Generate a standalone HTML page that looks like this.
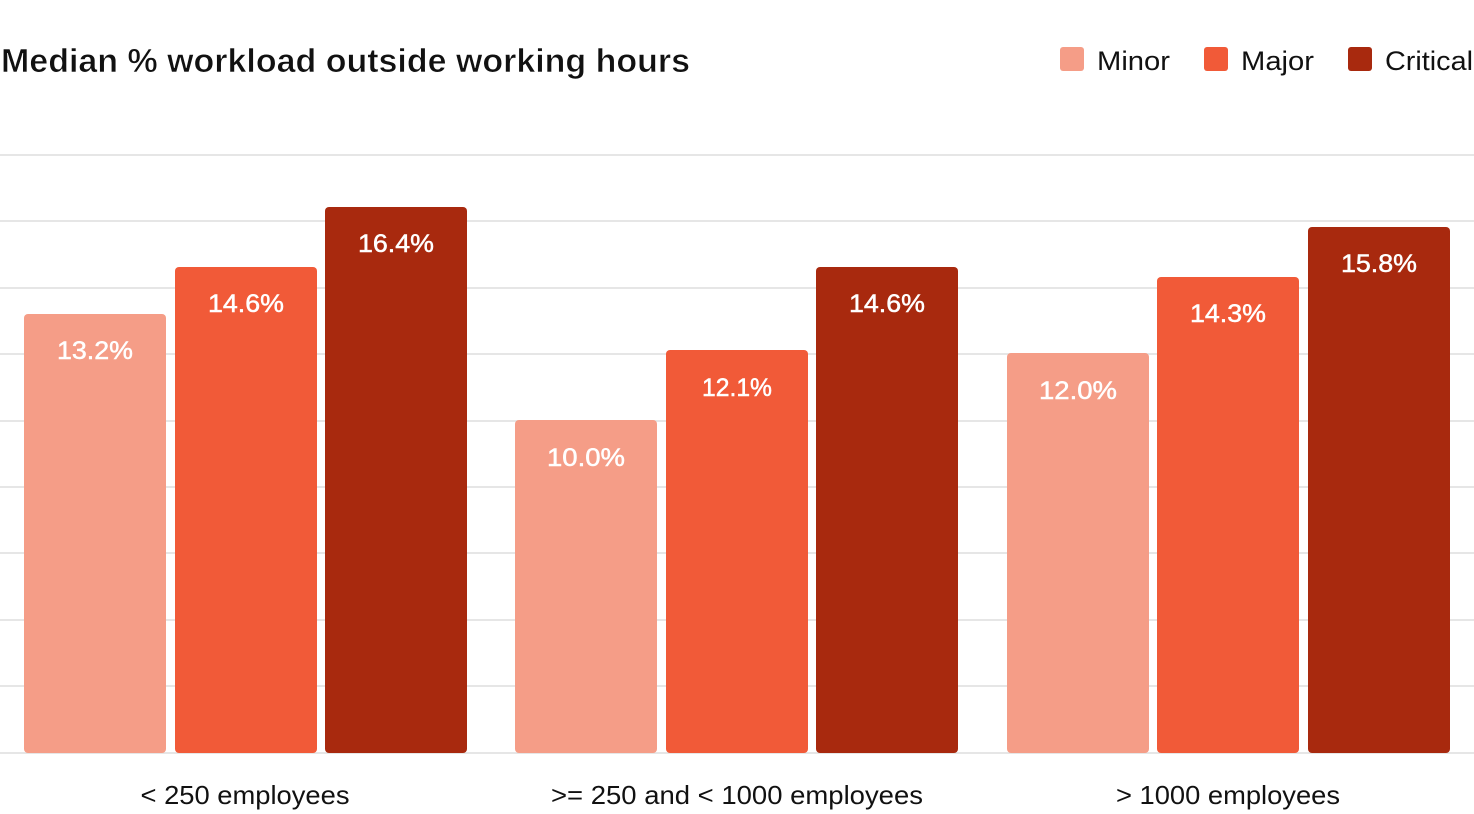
<!DOCTYPE html>
<html><head><meta charset="utf-8"><style>body{margin:0;background:#fff}svg{display:block}text{font-family:"Liberation Sans",sans-serif}</style></head><body>
<svg width="1474" height="814" viewBox="0 0 1474 814">
<text x="1" y="72" font-size="33" font-weight="bold" fill="#111" textLength="689" lengthAdjust="spacingAndGlyphs" stroke="#fff" stroke-width="0.6">Median % workload outside working hours</text>
<rect x="1060" y="47" width="24" height="24" rx="3" fill="#F59D87"/><text x="1097" y="70" font-size="27" fill="#111" textLength="73" lengthAdjust="spacingAndGlyphs">Minor</text>
<rect x="1204" y="47" width="24" height="24" rx="3" fill="#F15A38"/><text x="1241" y="70" font-size="27" fill="#111" textLength="73" lengthAdjust="spacingAndGlyphs">Major</text>
<rect x="1348" y="47" width="24" height="24" rx="3" fill="#A8290E"/><text x="1385" y="70" font-size="27" fill="#111" textLength="88" lengthAdjust="spacingAndGlyphs">Critical</text>
<g stroke="#e6e6e6" stroke-width="2">
<line x1="0" x2="1474" y1="155" y2="155"/><line x1="0" x2="1474" y1="221" y2="221"/><line x1="0" x2="1474" y1="288" y2="288"/><line x1="0" x2="1474" y1="354" y2="354"/><line x1="0" x2="1474" y1="421" y2="421"/><line x1="0" x2="1474" y1="487" y2="487"/><line x1="0" x2="1474" y1="553" y2="553"/><line x1="0" x2="1474" y1="620" y2="620"/><line x1="0" x2="1474" y1="686" y2="686"/><line x1="0" x2="1474" y1="753" y2="753"/>
</g>
<g>
<rect x="24" y="314" width="142" height="439" rx="4" fill="#F59D87"/>
<rect x="175" y="267" width="142" height="486" rx="4" fill="#F15A38"/>
<rect x="325" y="207" width="142" height="546" rx="4" fill="#A8290E"/>
<rect x="515" y="420" width="142" height="333" rx="4" fill="#F59D87"/>
<rect x="666" y="350" width="142" height="403" rx="4" fill="#F15A38"/>
<rect x="816" y="267" width="142" height="486" rx="4" fill="#A8290E"/>
<rect x="1007" y="353" width="142" height="400" rx="4" fill="#F59D87"/>
<rect x="1157" y="277" width="142" height="476" rx="4" fill="#F15A38"/>
<rect x="1308" y="227" width="142" height="526" rx="4" fill="#A8290E"/>
</g>
<g fill="#fff" font-size="25" text-anchor="middle" stroke="#fff" stroke-width="0.5">
<text x="95" y="359" textLength="76" lengthAdjust="spacingAndGlyphs">13.2%</text><text x="246" y="312" textLength="76" lengthAdjust="spacingAndGlyphs">14.6%</text><text x="396" y="252" textLength="76" lengthAdjust="spacingAndGlyphs">16.4%</text>
<text x="586" y="466" textLength="78" lengthAdjust="spacingAndGlyphs">10.0%</text><text x="737" y="396" textLength="70" lengthAdjust="spacingAndGlyphs">12.1%</text><text x="887" y="312" textLength="76" lengthAdjust="spacingAndGlyphs">14.6%</text>
<text x="1078" y="399" textLength="78" lengthAdjust="spacingAndGlyphs">12.0%</text><text x="1228" y="322" textLength="76" lengthAdjust="spacingAndGlyphs">14.3%</text><text x="1379" y="272" textLength="76" lengthAdjust="spacingAndGlyphs">15.8%</text>
</g>
<g fill="#111" font-size="26" text-anchor="middle">
<text x="245" y="804" textLength="209" lengthAdjust="spacingAndGlyphs">&lt; 250 employees</text>
<text x="737" y="804" textLength="372" lengthAdjust="spacingAndGlyphs">&gt;= 250 and &lt; 1000 employees</text>
<text x="1228" y="804" textLength="224" lengthAdjust="spacingAndGlyphs">&gt; 1000 employees</text>
</g>
</svg>
</body></html>
